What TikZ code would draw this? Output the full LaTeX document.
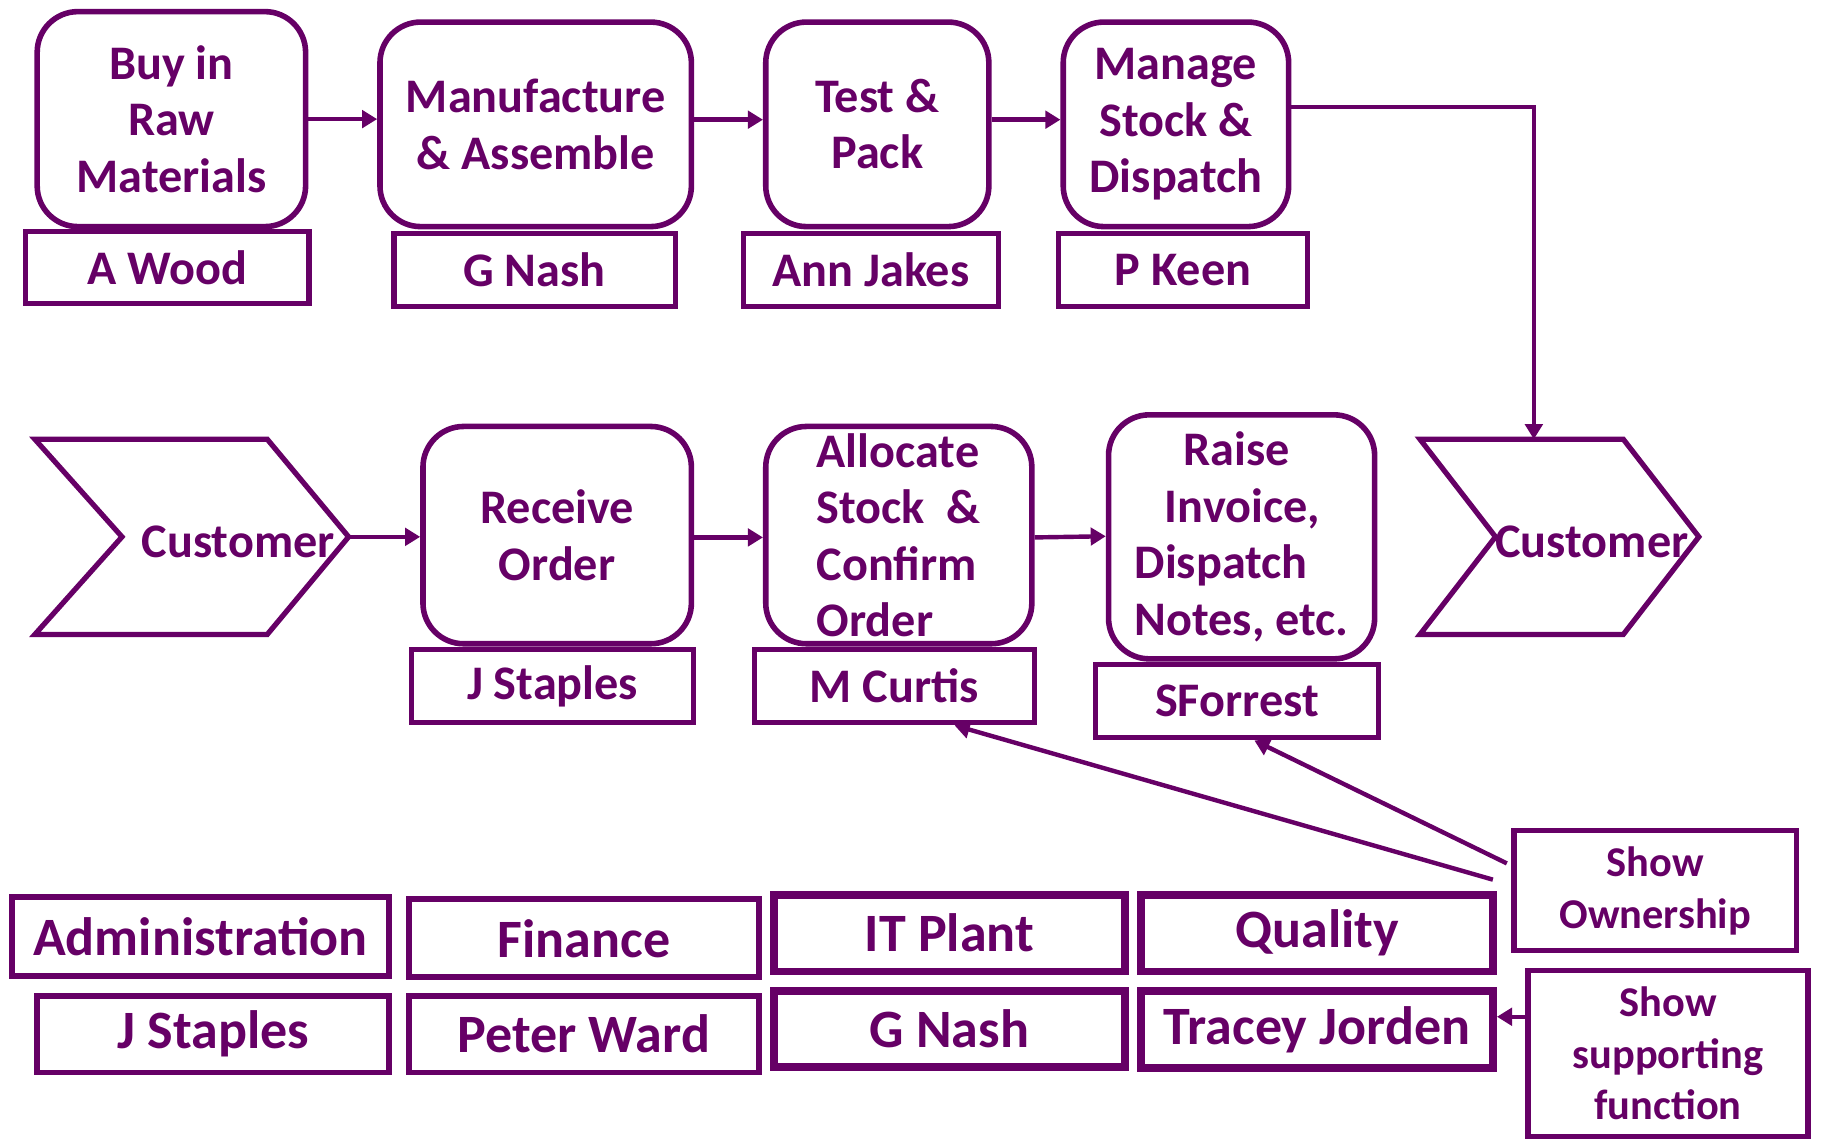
\documentclass[tikz,border=0pt]{standalone}
\usepackage{fontspec}
\setmainfont{Carlito}
\usetikzlibrary{arrows.meta}
\definecolor{pur}{HTML}{660066}
\begin{document}
\begin{tikzpicture}[x=1pt,y=-1pt,
  txt/.style={text=pur, font={\fontsize{41.5}{48.5}\selectfont\bfseries}, inner sep=0pt},
  procbox/.style={txt, draw=pur, line width=4.8pt, rounded corners=35pt, fill=white, align=center},
  namebox/.style={txt, draw=pur, line width=4.5pt, fill=white},
  funcbox/.style={namebox, line width=5pt, font={\fontsize{46.5}{52}\selectfont\bfseries}},
  funcboxb/.style={funcbox, line width=6.5pt},
  notebox/.style={namebox, line width=4.5pt, align=center, font={\fontsize{36.5}{44.5}\selectfont\bfseries}},
  chev/.style={draw=pur, line width=4.5pt, line join=miter},
  arr/.style={draw=pur, line width=3.8pt, -{Triangle[length=13pt,width=15pt]}}
]
\useasboundingbox (0,0) rectangle (1568,983);

% top row
\node[procbox, minimum width=231pt, minimum height=185pt] (buy) at (147.5,102.5) {Buy in\\Raw\\Materials};
\node[procbox, minimum width=268pt, minimum height=176pt] (manu) at (461,107) {Manufacture\\\& Assemble};
\node[procbox, minimum width=192pt, minimum height=176pt] (test) at (755,107) {Test \&\\Pack};
\node[procbox, minimum width=194pt, minimum height=176pt] (manage) at (1012,107) {Manage\\Stock \&\\Dispatch};

\node[namebox, minimum width=244pt, minimum height=62pt] (awood) at (144,230) {A Wood};
\node[namebox, minimum width=242pt, minimum height=63pt] (gnash1) at (460,232.5) {G Nash};
\node[namebox, minimum width=219pt, minimum height=63pt] (ann) at (749.5,232.5) {Ann Jakes};
\node[namebox, minimum width=214pt, minimum height=63pt] (pkeen) at (1018,232.5) {P Keen};

\draw[arr] (buy.east) -- (buy.east -| manu.west);
\draw[arr] ([yshift=4pt]manu.east) -- ([yshift=4pt]test.west);
\draw[arr] ([yshift=4pt]test.east) -- ([yshift=4pt]manage.west);

% customers
\coordinate (c1tip) at (300,462);
\draw[chev] (30,378) -- (230,378) -- (c1tip) -- (230,546) -- (30,546) -- (105,462) -- cycle;
\node[txt] (cust1) at (205,466) {Customer};

\coordinate (c2top) at (1320,378);
\draw[chev] (1222,378) -- (1397,378) -- (1462,462) -- (1397,546) -- (1222,546) -- (1287,462) -- cycle;
\node[txt] (cust2) at (1370,466) {Customer};

\draw[arr] ([yshift=15pt]manage.east) -| (c2top);

% middle row
\node[procbox, minimum width=231pt, minimum height=187pt] (recv) at (479.5,460.5) {Receive\\Order};
\node[procbox, align=left, minimum width=229pt, minimum height=187pt, text depth=0pt] (alloc) at (773.5,460.5) {Allocate\\Stock\ \ \&\\Confirm\\Order};
\node[procbox, align=left, minimum width=229pt, minimum height=210pt] (raise) at (1068.5,462) {\hspace*{42pt}Raise\\\hspace*{26pt}Invoice,\\Dispatch\\Notes, etc.};

\node[namebox, minimum width=243pt, minimum height=63pt] (jstap1) at (475.5,590.5) {J Staples};
\node[namebox, minimum width=241pt, minimum height=63pt] (mcurt) at (769.5,590.5) {M Curtis};
\node[namebox, minimum width=243pt, minimum height=63pt] (sforr) at (1064.5,603.5) {SForrest};

\draw[arr] (c1tip) -- (recv.west |- c1tip);
\draw[arr] ([yshift=-2pt]recv.east) -- ([yshift=-2pt]alloc.west);
\draw[arr] ([yshift=-2pt]alloc.east) -- ([yshift=-1pt]alloc.east -| raise.west);

% bottom rows
\node[funcbox, minimum width=325pt, minimum height=68pt] (admin) at (172.5,806) {Administration};
\node[funcbox, minimum width=303pt, minimum height=66pt] (jstap2) at (183.5,890) {J Staples};
\node[funcbox, minimum width=301pt, minimum height=67pt] (fin) at (502.5,807.5) {Finance};
\node[funcbox, minimum width=301pt, minimum height=66pt] (peter) at (502.5,890) {Peter Ward};
\node[funcboxb, minimum width=302pt, minimum height=66pt] (itp) at (817,803) {IT Plant};
\node[funcboxb, minimum width=302pt, minimum height=65pt] (gnash2) at (817,885.5) {G Nash};
\node[funcboxb, minimum width=303pt, minimum height=66pt] (qual) at (1133.5,803) {Quality};
\node[funcboxb, minimum width=303pt, minimum height=66pt] (tracey) at (1133.5,886) {Tracey Jorden};

\node[notebox, minimum width=243pt, minimum height=103pt] (own) at (1424.5,766.5) {Show\\Ownership};
\node[notebox, minimum width=241pt, minimum height=143pt] (sup) at (1435.5,906.5) {Show\\supporting\\function};

\draw[arr] ([xshift=-16pt,yshift=9.5pt]own.west) -- ([xshift=52pt]mcurt.south);
\draw[arr] ([xshift=-4pt,yshift=23.5pt]own.west) -- ([xshift=15pt]sforr.south);
\draw[arr] ([yshift=31.5pt]sup.west) -- ([yshift=11pt]tracey.east);
\end{tikzpicture}
\end{document}
